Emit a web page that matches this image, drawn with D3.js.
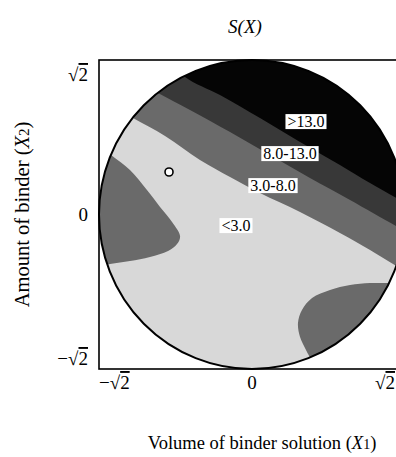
<!DOCTYPE html>
<html>
<head>
<meta charset="utf-8">
<script src="https://cdn.jsdelivr.net/npm/d3@7/dist/d3.min.js"></script>
<style>
  html, body { margin: 0; padding: 0; background: #fff; }
  svg { display: block; }
  text { font-family: "Liberation Serif", "Times New Roman", serif; fill: #000; }
</style>
</head>
<body>
<script>
const S2 = Math.SQRT2;

// ---- data (X1, X2 in coded units) ----
const xTickValues = [-S2, 0, S2];
const xTickLabels = ["−√", "0", "√"];
const yTickValues = [S2, 0, -S2];
const yTickLabels = ["√", "0", "−√"];

const levelNames = ["<3.0", "3.0-8.0", "8.0-13.0", ">13.0"];

// contour boundary S = 3.0 (upper band)
const boundary3 = [[-1.312, 1.002], [-1.100, 0.883], [-0.804, 0.719], [-0.481, 0.499], [-0.203, 0.343],
  [0.074, 0.197], [0.444, 0.023], [0.813, -0.169], [1.091, -0.325], [1.368, -0.490], [1.553, -0.581]];
// contour boundary S = 8.0
const boundary8 = [[-1.081, 1.231], [-0.869, 1.112], [-0.573, 0.957], [-0.203, 0.755], [0.166, 0.545],
  [0.536, 0.334], [0.906, 0.133], [1.368, -0.124], [1.553, -0.215]];
// contour boundary S = 13.0
const boundary13 = [[-0.804, 1.460], [-0.619, 1.259], [-0.296, 1.094], [0.074, 0.883], [0.444, 0.664],
  [0.813, 0.453], [1.091, 0.288], [1.368, 0.133], [1.553, 0.041]];
// S = 3.0 closed region on left side (3.0-8.0)
const blobLeft = [[-1.497, 0.682], [-1.303, 0.545], [-1.128, 0.407], [-0.971, 0.224], [-0.850, 0.069],
  [-0.739, -0.069], [-0.665, -0.197], [-0.693, -0.270], [-0.776, -0.334], [-0.943, -0.389],
  [-1.128, -0.426], [-1.312, -0.453], [-1.497, -0.490]];
// S = 3.0 region lower right (3.0-8.0)
const blobRight = [[1.460, -0.618], [1.276, -0.627], [1.091, -0.627], [0.906, -0.645], [0.721, -0.691],
  [0.555, -0.764], [0.462, -0.874], [0.425, -0.993], [0.444, -1.121], [0.499, -1.240],
  [0.555, -1.350], [0.610, -1.515]];
const upperCorners = [[2, 2], [-2, 2]];
const lowerCorners = [[2, -2]];

// label positions (X1, X2)
const labelX1 = [-0.148, 0.194, 0.351, 0.499];
const labelX2 = [-0.096, 0.270, 0.563, 0.856];

// optimum point marker
const optimum = [[-0.767, 0.389]];

// ---- chart ----
const W = 396, H = 457;
const svg = d3.select("body").append("svg").attr("width", W).attr("height", H);

const x = d3.scaleLinear().domain([-S2, S2]).range([99, 405]);
const y = d3.scaleLinear().domain([-S2, S2]).range([369, 60]);

const fills = ["#d8d8d8", "#6a6a6a", "#383838", "#050505"];

const cx = x(0), cy = y(0);
const rx = x(S2) - x(0), ry = y(0) - y(S2);

svg.append("defs").append("clipPath").attr("id", "circ")
  .append("ellipse").attr("cx", cx).attr("cy", cy).attr("rx", rx).attr("ry", ry);

const line = d3.line().x(d => x(d[0])).y(d => y(d[1])).curve(d3.curveCatmullRom.alpha(0.5));
const regionPath = (b, corners) => line(b) + corners.map(c => "L" + x(c[0]) + "," + y(c[1])).join("") + "Z";

const gc = svg.append("g").attr("clip-path", "url(#circ)");
gc.append("ellipse").attr("cx", cx).attr("cy", cy).attr("rx", rx).attr("ry", ry).attr("fill", fills[0]);
gc.append("path").attr("d", regionPath(boundary3, upperCorners)).attr("fill", fills[1]);
gc.append("path").attr("d", regionPath(boundary8, upperCorners)).attr("fill", fills[2]);
gc.append("path").attr("d", regionPath(boundary13, upperCorners)).attr("fill", fills[3]);
gc.append("path").attr("d", regionPath(blobLeft, [])).attr("fill", fills[1]);
gc.append("path").attr("d", regionPath(blobRight, lowerCorners)).attr("fill", fills[1]);

// circle outline
svg.append("ellipse").attr("cx", cx).attr("cy", cy).attr("rx", rx).attr("ry", ry)
  .attr("fill", "none").attr("stroke", "#000").attr("stroke-width", 2);

// frame
svg.append("rect").attr("x", x(-S2)).attr("y", y(S2))
  .attr("width", x(S2) - x(-S2)).attr("height", y(-S2) - y(S2))
  .attr("fill", "none").attr("stroke", "#000").attr("stroke-width", 1.6);

// optimum marker
svg.selectAll("circle.opt").data(optimum).join("circle").attr("class", "opt")
  .attr("cx", d => x(d[0])).attr("cy", d => y(d[1])).attr("r", 4)
  .attr("fill", "#fff").attr("stroke", "#000").attr("stroke-width", 1.6);

// level labels with white boxes
const lg = svg.selectAll("g.lab").data(levelNames).join("g").attr("class", "lab")
  .attr("transform", (d, i) => `translate(${x(labelX1[i])},${y(labelX2[i])})`);
lg.append("text").attr("text-anchor", "middle").attr("dy", "0.35em")
  .attr("font-size", 16).text(d => d)
  .each(function () {
    const bb = this.getBBox();
    d3.select(this.parentNode).insert("rect", "text")
      .attr("x", bb.x - 2).attr("y", bb.y + 1.5).attr("width", bb.width + 4).attr("height", bb.height - 2)
      .attr("fill", "#fff");
  });

// radical helper: draws label text with overline over the "2"
function radLabel(sel, lab) {
  sel.text(null);
  if (lab === "0") { sel.text("0"); return; }
  sel.append("tspan").text(lab);
  sel.append("tspan").attr("text-decoration", "overline").style("text-decoration", "overline").text("2");
}

// x tick labels
const xAnchors = ["start", "middle", "end"];
const xOff = [0, 0, -10];
svg.selectAll("text.xt").data(xTickValues).join("text").attr("class", "xt")
  .attr("x", (d, i) => x(d) + xOff[i]).attr("y", 389)
  .attr("text-anchor", (d, i) => xAnchors[i]).attr("font-size", 19)
  .each(function (d, i) { radLabel(d3.select(this), xTickLabels[i]); });

// y tick labels
const yDy = [21, 6, -4];
svg.selectAll("text.yt").data(yTickValues).join("text").attr("class", "yt")
  .attr("x", 88).attr("y", (d, i) => y(d) + yDy[i])
  .attr("text-anchor", "end").attr("font-size", 19)
  .each(function (d, i) { radLabel(d3.select(this), yTickLabels[i]); });

// title
const t = svg.append("text").attr("x", 245).attr("y", 33).attr("text-anchor", "middle")
  .attr("font-size", 19).attr("font-style", "italic");
t.text("S(X)");

// axis titles
const xt = svg.append("text").attr("x", 262).attr("y", 449).attr("text-anchor", "middle").attr("font-size", 18.5);
xt.append("tspan").text("Volume of binder solution (");
xt.append("tspan").attr("font-style", "italic").text("X");
xt.append("tspan").attr("font-size", 14).text("1");
xt.append("tspan").text(")");

const yt = svg.append("text").attr("transform", `translate(29,${cy}) rotate(-90)`)
  .attr("text-anchor", "middle").attr("font-size", 20.5);
yt.append("tspan").text("Amount of binder (");
yt.append("tspan").attr("font-style", "italic").text("X");
yt.append("tspan").attr("font-size", 15).text("2");
yt.append("tspan").text(")");
</script>
</body>
</html>
